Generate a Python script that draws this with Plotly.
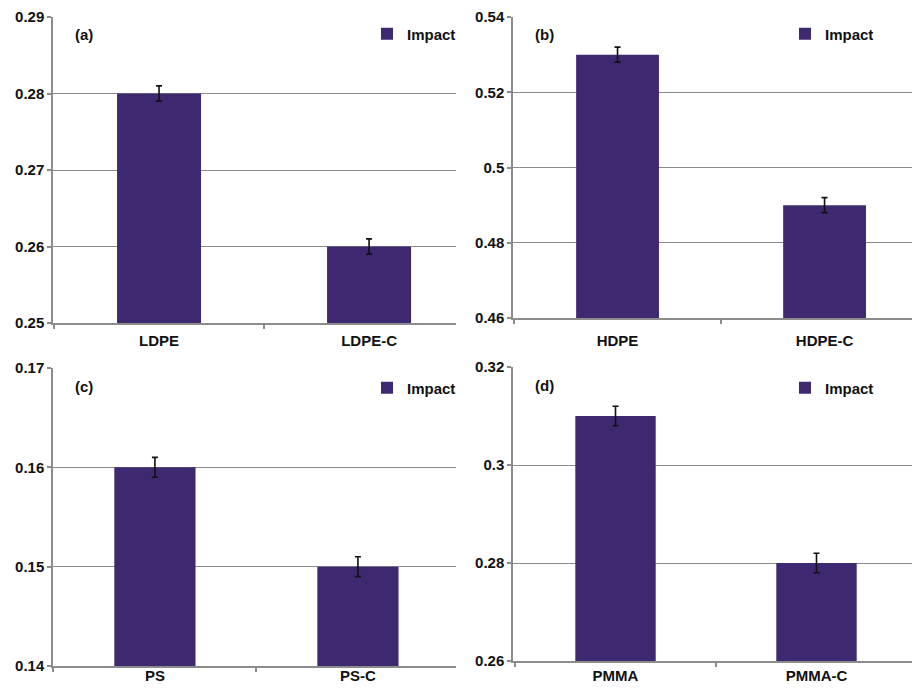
import plotly.graph_objects as go

# ---- data ----
cats_a = ["LDPE", "LDPE-C"]
vals_a = [0.28, 0.26]
err_a = [0.001, 0.001]

cats_b = ["HDPE", "HDPE-C"]
vals_b = [0.53, 0.49]
err_b = [0.002, 0.002]

cats_c = ["PS", "PS-C"]
vals_c = [0.16, 0.15]
err_c = [0.001, 0.001]

cats_d = ["PMMA", "PMMA-C"]
vals_d = [0.31, 0.28]
err_d = [0.002, 0.002]

yticks_a = [0.25, 0.26, 0.27, 0.28, 0.29]
yticks_b = [0.46, 0.48, 0.5, 0.52, 0.54]
yticks_c = [0.14, 0.15, 0.16, 0.17]
yticks_d = [0.26, 0.28, 0.3, 0.32]
ytext_a = ["0.25", "0.26", "0.27", "0.28", "0.29"]
ytext_b = ["0.46", "0.48", "0.5", "0.52", "0.54"]
ytext_c = ["0.14", "0.15", "0.16", "0.17"]
ytext_d = ["0.26", "0.28", "0.3", "0.32"]
series_name = "Impact"
panel_labels = ["(a)", "(b)", "(c)", "(d)"]

# page is offset by the default 8px body margin
OFF = 8
W, H = 920 - OFF, 688 - OFF
BAR = "#3e2870"
GRID = "#8c8c8c"
FONT = "Liberation Sans, Arial, sans-serif"


def px_x(p):
    return (p - OFF) / W


def px_y(p):
    return 1 - (p - OFF) / H


panels = [
    # cats, vals, errs, yticks, ytext, (L, R, top, bottom px), xrange, legend pos, label standoff
    (cats_a, vals_a, err_a, yticks_a, ytext_a, (53, 456, 17, 323), [-0.505, 1.414], (367, 34), 3),
    (cats_b, vals_b, err_b, yticks_b, ytext_b, (513, 920, 17, 318), [-0.505, 1.461], (785, 34), 8),
    (cats_c, vals_c, err_c, yticks_c, ytext_c, (53, 456, 368, 666), [-0.502, 1.483], (367, 388), -5),
    (cats_d, vals_d, err_d, yticks_d, ytext_d, (513, 917, 367, 661), [-0.51, 1.5], (785, 388), 0),
]

fig = go.Figure()
layout = dict(
    template="none",
    width=W, height=H,
    margin=dict(l=0, r=0, t=0, b=0, autoexpand=False),
    paper_bgcolor="white", plot_bgcolor="white",
    font=dict(family=FONT, size=15, color="#111"),
    annotations=[],
)

for i, (cats, vals, errs, yt, ytx, (L, R, T, B), xr, (lx, ly), so) in enumerate(panels):
    n = "" if i == 0 else str(i + 1)
    legname = "legend" + n
    fig.add_trace(go.Bar(
        x=cats, y=vals, name=series_name,
        marker=dict(color=BAR, line=dict(width=0)),
        width=0.4,
        error_y=dict(type="data", array=errs, visible=True, color="#111", thickness=1.6, width=3),
        xaxis="x" + n, yaxis="y" + n,
        legend=legname,
        showlegend=True,
    ))
    layout["xaxis" + n] = dict(
        domain=[px_x(L), min(px_x(R), 1)], anchor="y" + n, type="category",
        range=xr, showgrid=False, showline=True, linecolor=GRID, linewidth=1.5,
        ticks="outside", tickson="boundaries", ticklen=4, tickcolor=GRID, tickwidth=1.5,
        tickfont=dict(family=FONT, size=15, color="#111", weight="bold"),
        ticklabelstandoff=so, ticklabeloverflow="allow",
        automargin=False, fixedrange=True,
    )
    lo, hi = yt[0], yt[-1]
    span = hi - lo
    layout["yaxis" + n] = dict(
        domain=[px_y(B), px_y(T)], anchor="x" + n,
        range=[lo, hi + span * 1e-6], tickvals=yt, ticktext=ytx,
        showgrid=True, gridcolor=GRID, gridwidth=1.3,
        showline=True, linecolor=GRID, linewidth=1.5, mirror=False,
        ticks="outside", ticklen=4, tickcolor=GRID, tickwidth=1.5,
        tickfont=dict(family=FONT, size=15, color="#111", weight="bold"),
        ticklabeloverflow="allow",
        zeroline=False, automargin=False, fixedrange=True,
    )
    layout[legname] = dict(
        x=px_x(lx), y=px_y(ly), xanchor="left", yanchor="middle",
        bgcolor="rgba(0,0,0,0)", borderwidth=0,
        font=dict(family=FONT, size=15, color="#111", weight="bold"),
        itemwidth=30, tracegroupgap=0,
    )
    layout["annotations"].append(dict(
        text=panel_labels[i], xref="paper", yref="paper",
        x=px_x(L + 20), y=px_y(T + 18), xanchor="left", yanchor="middle",
        showarrow=False, font=dict(family=FONT, size=15, color="#111", weight="bold"),
    ))

fig.update_layout(**layout)
fig.write_html("out.html")
